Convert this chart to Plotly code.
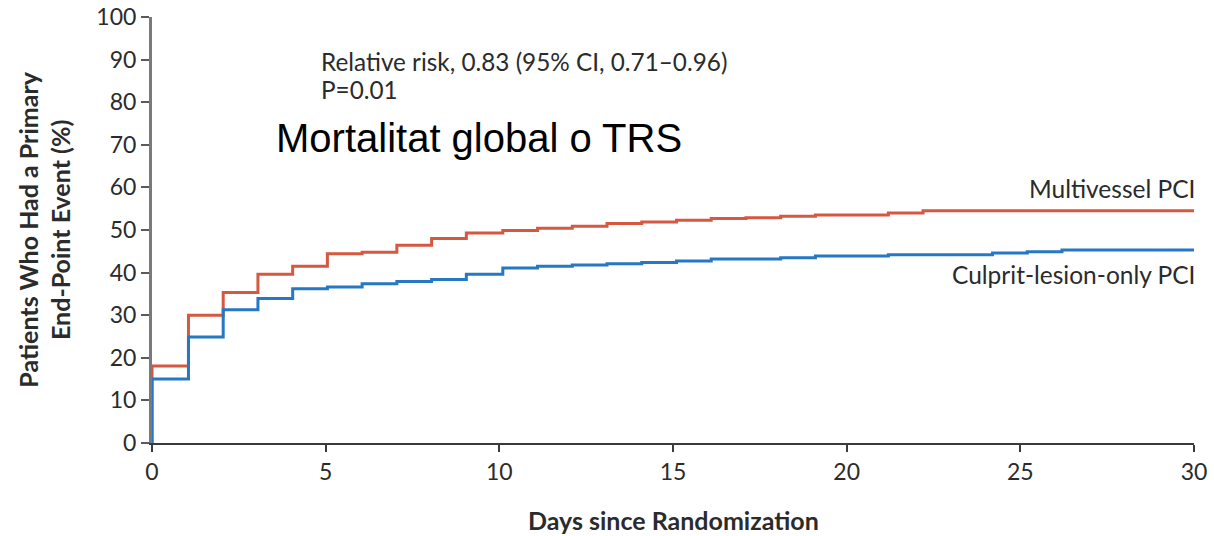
import plotly.graph_objects as go

# Cumulative event curves (step functions), days since randomization vs. % of patients
multivessel_days = [0, 0, 1.05, 2.05, 3.05, 4.05, 5.05, 6.05, 7.05, 8.05, 9.05, 10.1, 11.1,
                    12.1, 13.1, 14.1, 15.1, 16.1, 17.1, 18.1, 19.1, 21.2, 22.2, 30]
multivessel_pct = [0, 18.1, 30.0, 35.3, 39.6, 41.5, 44.4, 44.8, 46.4, 48.0, 49.3, 49.9, 50.4,
                   50.9, 51.5, 51.9, 52.3, 52.7, 52.9, 53.2, 53.5, 54.0, 54.5, 54.5]

culprit_days = [0, 0, 1.05, 2.05, 3.05, 4.05, 5.05, 6.05, 7.05, 8.05, 9.05, 10.1, 11.1,
                12.1, 13.1, 14.1, 15.1, 16.1, 18.1, 19.1, 21.2, 24.2, 25.2, 26.2, 30]
culprit_pct = [0, 15.0, 24.9, 31.3, 33.9, 36.2, 36.6, 37.4, 37.9, 38.4, 39.6, 41.1, 41.5,
               41.8, 42.1, 42.4, 42.7, 43.2, 43.5, 43.9, 44.2, 44.6, 44.9, 45.3, 45.3]

x_ticks = [0, 5, 10, 15, 20, 25, 30]
y_ticks = [0, 10, 20, 30, 40, 50, 60, 70, 80, 90, 100]

RED = "rgb(214,88,64)"
BLUE = "rgb(38,120,196)"
TEXT = "#2b2b2b"
FONT = "Lato, 'Open Sans', sans-serif"

fig = go.Figure()
fig.add_trace(go.Scatter(x=multivessel_days, y=multivessel_pct, mode="lines",
                         line=dict(color=RED, width=3, shape="hv"), hoverinfo="skip"))
fig.add_trace(go.Scatter(x=culprit_days, y=culprit_pct, mode="lines",
                         line=dict(color=BLUE, width=3, shape="hv"), hoverinfo="skip"))

fig.update_layout(
    width=1214, height=536,
    margin=dict(l=152, r=20, t=17, b=93, autoexpand=False),
    plot_bgcolor="white", paper_bgcolor="white",
    showlegend=False,
    font=dict(family=FONT, color=TEXT, size=22),
    xaxis=dict(range=[0, 30], tickvals=x_ticks, showgrid=False, zeroline=False,
               automargin=False,
               showline=True, linecolor="#3a3a3a", linewidth=2,
               ticks="outside", ticklen=7, tickwidth=2, tickcolor="#3a3a3a",
               tickfont=dict(size=23, family=FONT, color=TEXT)),
    yaxis=dict(range=[0, 100], tickvals=y_ticks, showgrid=False, zeroline=False,
               automargin=False,
               showline=True, linecolor="#7a7a7a", linewidth=3,
               ticks="outside", ticklen=8, tickwidth=2, tickcolor="#5a5a5a",
               tickfont=dict(size=23, family=FONT, color=TEXT)),
)

annotations = [
    dict(text="<b>Days since Randomization</b>", x=0.5, y=-0.18, xref="paper", yref="paper",
         xanchor="center", yanchor="middle", font=dict(size=25, color=TEXT), showarrow=False),
    dict(text="<b>Patients Who Had a Primary<br>End-Point Event (%)</b>", x=-0.104, y=0.5,
         xref="paper", yref="paper", textangle=-90, xanchor="center", yanchor="middle",
         font=dict(size=25, color=TEXT), showarrow=False),
    dict(text="Relative risk, 0.83 (95% CI, 0.71\u20130.96)", x=4.8, y=89.5, xref="x", yref="y",
         xanchor="left", yanchor="middle", font=dict(size=24.3, color=TEXT), showarrow=False),
    dict(text="P=0.01", x=4.8, y=83, xref="x", yref="y",
         xanchor="left", yanchor="middle", font=dict(size=24.3, color=TEXT), showarrow=False),
    dict(text="Mortalitat global o TRS", x=3.5, y=71.5, xref="x", yref="y",
         xanchor="left", yanchor="middle",
         font=dict(size=40, color="black", family="Liberation Sans, Arial, sans-serif"),
         showarrow=False),
    dict(text="Multivessel PCI", x=1.003, y=59.8, xref="paper", yref="y",
         xanchor="right", yanchor="middle", font=dict(size=24.5, color=TEXT), showarrow=False),
    dict(text="Culprit-lesion-only PCI", x=1.003, y=39.5, xref="paper", yref="y",
         xanchor="right", yanchor="middle", font=dict(size=24.5, color=TEXT), showarrow=False),
]
fig.update_layout(annotations=annotations)

fig.write_html("out.html")
